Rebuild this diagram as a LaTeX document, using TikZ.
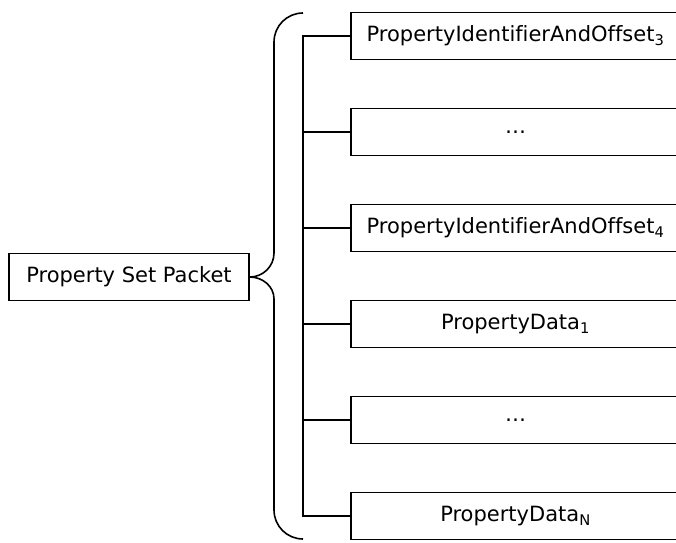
\documentclass[tikz,border=0pt]{standalone}
\usepackage{fontspec}
\setmainfont[Ligatures=NoCommon]{DejaVu Sans}
\usetikzlibrary{positioning}
\tikzset{
	node distance=96pt,
	every node/.style={font=\fontsize{21}{25}\selectfont},
	packet/.style={draw, line width=1.6pt, minimum width=240pt, minimum height=47pt},
	field/.style={draw, line width=1.6pt, minimum width=329pt, minimum height=47pt, inner sep=0pt},
	link/.style={line width=1.6pt}}

\begin{document}
\begin{tikzpicture}[x=1pt,y=1pt]
		\useasboundingbox (0,0) rectangle (676,542);
		
		%Packet
		\node[packet] (psp) at (129,265) {Property Set Packet};
		
		%Fields
		\node[field] (f1) at (515.5,506) {PropertyIdentifierAndOffset\textsubscript{3}};
		\node[field, below of=f1] (f2) {\dots};
		\node[field, below of=f2] (f3) {PropertyIdentifierAndOffset\textsubscript{4}};
		\node[field, below of=f3] (f4) {PropertyData\textsubscript{1}};
		\node[field, below of=f4] (f5) {\dots};
		\node[field, below of=f5] (f6) {PropertyData\textsubscript{N}};
		
		%Brace
		\coordinate (brtop) at (303,529);
		\coordinate (brbot) at (303,3);
		\draw[link] (brtop) to[out=180,in=90] (274,500) -- (274,289)
			to[out=-90,in=0] (psp.east)
			to[out=0,in=90] (274,243) -- (274,32)
			to[out=-90,in=180] (brbot);
		
		%Trunk
		\coordinate (trunk) at (303,0);
		\draw[link] (f1.west) -- (f1.west -| trunk) -- (f6.west -| trunk) -- (f6.west);
		\draw[link]
		(f2.west) -- (f2.west -| trunk)
		(f3.west) -- (f3.west -| trunk)
		(f4.west) -- (f4.west -| trunk)
		(f5.west) -- (f5.west -| trunk);
	\end{tikzpicture}
\end{document}
